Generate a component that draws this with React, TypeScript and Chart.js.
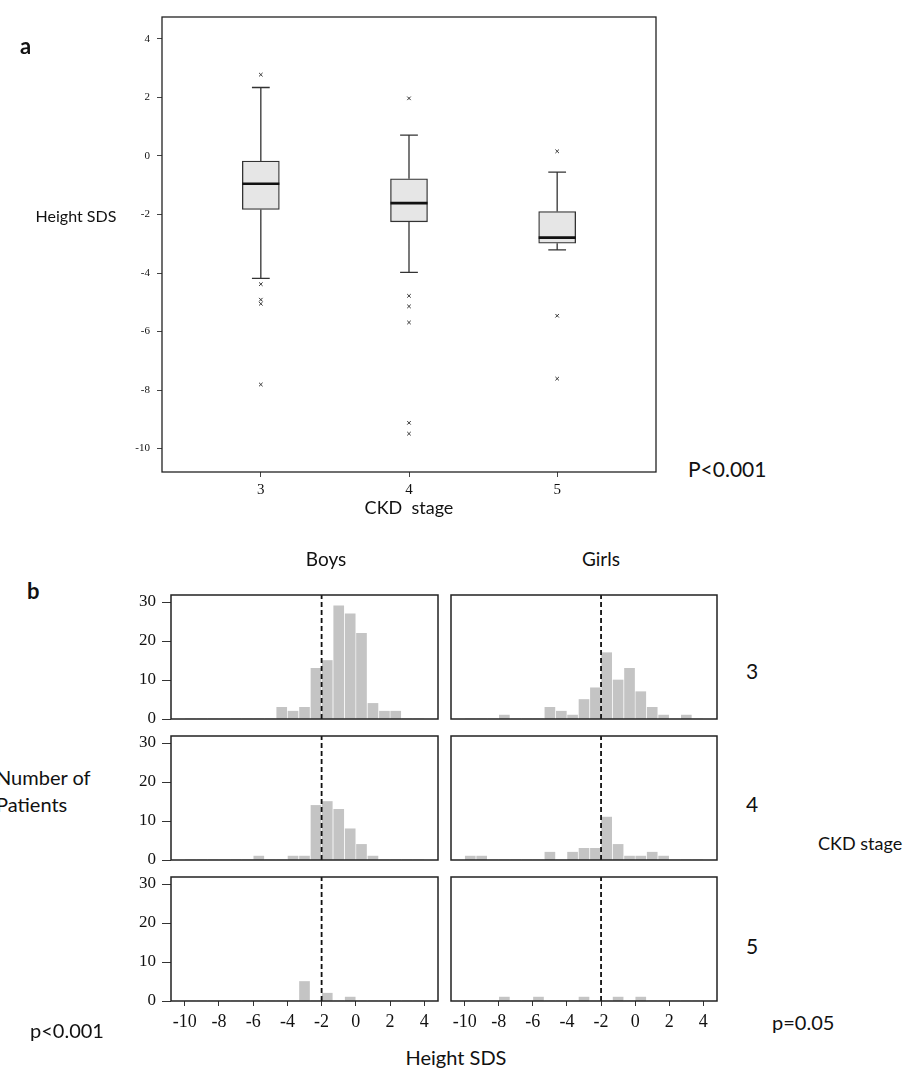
import React, { useEffect, useRef } from 'react';
import { Chart, registerables } from 'chart.js';
Chart.register(...registerables);

// ---------- Panel a : box plot data ----------
const stages = [3, 4, 5];
const q1 = [-1.83, -2.25, -2.98];
const medians = [-0.95, -1.61, -2.79];
const q3 = [-0.17, -0.78, -1.9];
const whiskerLow = [-4.18, -3.98, -3.21];
const whiskerHigh = [2.34, 0.71, -0.55];
const outliersStage3 = [2.78, -4.38, -4.91, -5.05, -7.81];
const outliersStage4 = [1.97, -4.78, -5.14, -5.69, -9.12, -9.49];
const outliersStage5 = [0.16, -5.46, -7.61];
const heightTicks = [-10, -8, -6, -4, -2, 0, 2, 4];

// ---------- Panel b : histogram data ----------
const binCenters = [-9.67, -9, -8.33, -7.67, -7, -6.33, -5.67, -5, -4.33, -3.67, -3, -2.33, -1.67, -1, -0.33, 0.33, 1, 1.67, 2.33, 3, 3.67];
const boysStage3 = [0, 0, 0, 0, 0, 0, 0, 0, 3, 2, 3, 13, 15, 29, 27, 22, 4, 2, 2, 0, 0];
const boysStage4 = [0, 0, 0, 0, 0, 0, 1, 0, 0, 1, 1, 14, 15, 13, 8, 4, 1, 0, 0, 0, 0];
const boysStage5 = [0, 0, 0, 0, 0, 0, 0, 0, 0, 0, 5, 0, 2, 0, 1, 0, 0, 0, 0, 0, 0];
const girlsStage3 = [0, 0, 0, 1, 0, 0, 0, 3, 2, 1, 5, 8, 17, 10, 13, 7, 3, 1, 0, 1, 0];
const girlsStage4 = [1, 1, 0, 0, 0, 0, 0, 2, 0, 2, 3, 3, 11, 4, 1, 1, 2, 1, 0, 0, 0];
const girlsStage5 = [0, 0, 0, 1, 0, 0, 1, 0, 0, 0, 1, 0, 0, 1, 0, 1, 0, 0, 0, 0, 0];
const countTicks = [0, 10, 20, 30];
const sdsTicks = [-10, -8, -6, -4, -2, 0, 2, 4];
const cutoffSDS = -2;

const SERIF = "'Liberation Serif', 'DejaVu Serif', serif";
const SANS = "Lato, 'Open Sans', sans-serif";

const framePlugin = {
  id: 'frame',
  afterDatasetsDraw(chart: any, _args: any, opts: any) {
    const { ctx, chartArea: a } = chart;
    ctx.save();
    ctx.strokeStyle = opts.color || '#222';
    ctx.lineWidth = opts.width || 1.2;
    ctx.strokeRect(a.left, a.top, a.right - a.left, a.bottom - a.top);
    ctx.restore();
  },
};

function fixedTicks(values: number[]) {
  return (axis: any) => {
    axis.ticks = values.map((v) => ({ value: v }));
  };
}

function boxConfig(): any {
  const boxHalf = 0.125;
  const capHalf = 0.06;
  const whiskers: any[] = [];
  const meds: any[] = [];
  stages.forEach((s, i) => {
    whiskers.push({ x: s, y: q3[i] }, { x: s, y: whiskerHigh[i] }, { x: s, y: null });
    whiskers.push({ x: s, y: q1[i] }, { x: s, y: whiskerLow[i] }, { x: s, y: null });
    whiskers.push({ x: s - capHalf, y: whiskerHigh[i] }, { x: s + capHalf, y: whiskerHigh[i] }, { x: s, y: null });
    whiskers.push({ x: s - capHalf, y: whiskerLow[i] }, { x: s + capHalf, y: whiskerLow[i] }, { x: s, y: null });
    meds.push({ x: s - boxHalf, y: medians[i] }, { x: s + boxHalf, y: medians[i] }, { x: s, y: null });
  });
  const outliers = [
    ...outliersStage3.map((y) => ({ x: stages[0], y })),
    ...outliersStage4.map((y) => ({ x: stages[1], y })),
    ...outliersStage5.map((y) => ({ x: stages[2], y })),
  ];
  return {
    type: 'bar',
    data: {
      datasets: [
        {
          type: 'scatter',
          data: outliers,
          pointStyle: 'crossRot',
          pointRadius: 2.5,
          borderColor: '#333',
          borderWidth: 1,
          order: 0,
        },
        {
          type: 'line',
          data: meds,
          borderColor: '#111',
          borderWidth: 2.6,
          pointRadius: 0,
          spanGaps: false,
          order: 1,
        },
        {
          type: 'line',
          data: whiskers,
          borderColor: '#333',
          borderWidth: 1.3,
          pointRadius: 0,
          spanGaps: false,
          order: 2,
        },
        {
          type: 'bar',
          data: stages.map((s, i) => ({ x: s, y: [q1[i], q3[i]] })),
          backgroundColor: '#e6e6e6',
          borderColor: '#333',
          borderWidth: 1.3,
          borderSkipped: false,
          barThickness: 37,
          order: 3,
        },
      ],
    },
    options: {
      responsive: false,
      animation: false,
      layout: { padding: { left: 0, top: 17, right: 24, bottom: 0 } },
      plugins: { legend: { display: false }, tooltip: { enabled: false }, frame: { color: '#222', width: 1.3 } },
      scales: {
        x: {
          type: 'linear',
          min: 2.333,
          max: 5.667,
          offset: false,
          afterBuildTicks: fixedTicks(stages),
          afterFit: (s: any) => { s.height = 48; s.paddingLeft = 0; s.paddingRight = 0; },
          grid: { offset: false, drawOnChartArea: false, drawTicks: true, tickLength: 5, color: '#444' },
          border: { display: false },
          ticks: { font: { family: SERIF, size: 15 }, color: '#111', padding: 4, maxRotation: 0 },
        },
        y: {
          type: 'linear',
          min: -10.8,
          max: 4.75,
          afterBuildTicks: fixedTicks(heightTicks),
          afterFit: (s: any) => { s.width = 162; s.paddingTop = 0; s.paddingBottom = 0; },
          grid: { offset: false, drawOnChartArea: false, drawTicks: true, tickLength: 5, color: '#444' },
          border: { display: false },
          ticks: { font: { family: SERIF, size: 11 }, color: '#111', padding: 7 },
        },
      },
    },
    plugins: [framePlugin],
  };
}

const HIST_MAX = 31.8;

function histConfig(counts: number[], showY: boolean, showX: boolean, padLeft: number): any {
  return {
    type: 'bar',
    data: {
      datasets: [
        {
          type: 'line',
          data: [{ x: cutoffSDS, y: 0 }, { x: cutoffSDS, y: HIST_MAX }],
          borderColor: '#111',
          borderWidth: 1.8,
          borderDash: [5, 3],
          pointRadius: 0,
          order: 0,
        },
        {
          type: 'bar',
          data: binCenters.map((c, i) => ({ x: c, y: counts[i] })),
          backgroundColor: '#c4c4c4',
          barThickness: 10,
          order: 1,
        },
      ],
    },
    options: {
      responsive: false,
      animation: false,
      layout: { padding: { left: padLeft, top: 4, right: 4, bottom: showX ? 0 : 4 } },
      plugins: { legend: { display: false }, tooltip: { enabled: false }, frame: { color: '#222', width: 1.5 } },
      scales: {
        x: {
          type: 'linear',
          display: showX,
          min: -10.8,
          max: 4.8,
          offset: false,
          afterBuildTicks: fixedTicks(sdsTicks),
          afterFit: (s: any) => { if (showX) { s.height = 35; s.paddingLeft = 0; s.paddingRight = 0; } },
          grid: { offset: false, drawOnChartArea: false, drawTicks: true, tickLength: 5, color: '#333' },
          border: { display: false },
          ticks: { font: { family: SERIF, size: 18 }, color: '#111', padding: 5, maxRotation: 0, autoSkip: false },
        },
        y: {
          type: 'linear',
          display: showY,
          min: 0,
          max: HIST_MAX,
          afterBuildTicks: fixedTicks(countTicks),
          afterFit: (s: any) => { if (showY) { s.width = 71; s.paddingTop = 0; s.paddingBottom = 0; } },
          grid: { offset: false, drawOnChartArea: false, drawTicks: true, tickLength: 9, color: '#333' },
          border: { display: false },
          ticks: { font: { family: SERIF, size: 17 }, color: '#111', padding: 6 },
        },
      },
    },
    plugins: [framePlugin],
  };
}

function ChartCanvas({ left, top, width, height, config }: any) {
  const ref = useRef<HTMLCanvasElement | null>(null);
  useEffect(() => {
    const chart = new Chart(ref.current as HTMLCanvasElement, config);
    return () => chart.destroy();
  }, []);
  return (
    <canvas
      ref={ref}
      width={width}
      height={height}
      style={{ position: 'absolute', left, top, width, height }}
    />
  );
}

function Label({ x, y, text, size, bold, align }: any) {
  const tx = align === 'left' ? '0' : '-50%';
  return (
    <div
      style={{
        position: 'absolute',
        left: x,
        top: y,
        transform: `translate(${tx}, -50%)`,
        fontFamily: SANS,
        fontSize: size,
        fontWeight: bold ? 700 : 400,
        whiteSpace: 'pre',
        lineHeight: 1,
        color: '#111',
      }}
    >
      {text}
    </div>
  );
}

const rowTops = [595, 736, 877];
const ROW_H = 124;

export default function App() {
  const boys = [boysStage3, boysStage4, boysStage5];
  const girls = [girlsStage3, girlsStage4, girlsStage5];
  return (
    <div style={{ position: 'absolute', left: 0, top: 0, width: 909, height: 1070, background: '#fff', overflow: 'hidden' }}>
      <ChartCanvas left={0} top={0} width={680} height={520} config={boxConfig()} />
      {rowTops.map((t, r) => {
        const last = r === 2;
        const h = ROW_H + 4 + (last ? 35 : 4);
        return (
          <React.Fragment key={r}>
            <ChartCanvas left={100} top={t - 4} width={342} height={h} config={histConfig(boys[r], true, last, 0)} />
            <ChartCanvas left={447} top={t - 4} width={274} height={h} config={histConfig(girls[r], false, last, 4)} />
          </React.Fragment>
        );
      })}

      <Label x={20} y={46} text="a" size={22} bold align="left" />
      <Label x={76} y={216} text="Height SDS" size={16} />
      <Label x={688} y={468} text="P<0.001" size={21} align="left" />
      <Label x={409} y={507} text={'CKD  stage'} size={18} />

      <Label x={27} y={591} text="b" size={22} bold align="left" />
      <Label x={326} y={558} text="Boys" size={19} />
      <Label x={601} y={558} text="Girls" size={19} />
      <Label x={752} y={670} text="3" size={21} />
      <Label x={752} y={803} text="4" size={21} />
      <Label x={752} y={945} text="5" size={21} />
      <Label x={818} y={843} text="CKD stage" size={18} align="left" />
      <Label x={-4} y={777} text="Number of" size={20} align="left" />
      <Label x={-4} y={804} text="Patients" size={20} align="left" />
      <Label x={30} y={1030} text="p<0.001" size={20} align="left" />
      <Label x={772} y={1022} text="p=0.05" size={20} align="left" />
      <Label x={456} y={1057} text="Height SDS" size={20} />
    </div>
  );
}
